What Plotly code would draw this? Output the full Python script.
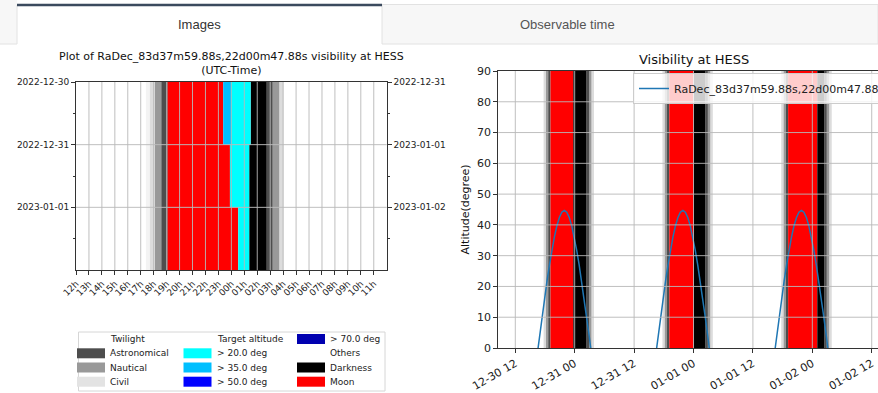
import plotly.graph_objects as go
import pandas as pd

W, H = 878, 393


def fx(x):
    return x / W


def fy(y):
    return 1 - y / H


# ---------------- Left chart data (hours; 12 = noon of row date, 36 = next noon)
row_labels_left = ["2022-12-30", "2022-12-31", "2023-01-01"]
row_labels_right = ["2022-12-31", "2023-01-01", "2023-01-02"]
hour_ticks = list(range(12, 36))
hour_labels = ["12h", "13h", "14h", "15h", "16h", "17h", "18h", "19h", "20h", "21h", "22h", "23h",
               "00h", "01h", "02h", "03h", "04h", "05h", "06h", "07h", "08h", "09h", "10h", "11h"]

seg_row = [0] * 11 + [1] * 10 + [2] * 10
seg_start = [17.71, 18.10, 18.59, 19.08, 23.37, 23.97, 25.49, 26.73, 27.19, 27.70, 17.40,
             17.71, 18.10, 18.59, 19.08, 23.89, 25.38, 26.73, 27.19, 27.70, 17.40,
             17.71, 18.10, 18.59, 19.08, 24.53, 25.38, 26.73, 27.19, 27.70, 17.40]
seg_end = [18.10, 18.59, 19.08, 23.37, 23.97, 25.49, 26.73, 27.19, 27.70, 28.01, 17.71,
           18.10, 18.59, 19.08, 23.89, 25.38, 26.73, 27.19, 27.70, 28.01, 17.71,
           18.10, 18.59, 19.08, 24.53, 25.38, 26.73, 27.19, 27.70, 28.01, 17.71]
seg_kind = ["civil", "nautical", "astro", "moon", "alt35", "alt20", "dark", "astro", "nautical", "civil", "pale",
            "civil", "nautical", "astro", "moon", "alt20", "dark", "astro", "nautical", "civil", "pale",
            "civil", "nautical", "astro", "moon", "alt20", "dark", "astro", "nautical", "civil", "pale"]

kind_colors = {
    "pale": "#f3f3f3",
    "civil": "#dcdcdc",
    "nautical": "#999999",
    "astro": "#4d4d4d",
    "dark": "#000000",
    "moon": "#ff0000",
    "alt20": "#00ffff",
    "alt35": "#00bfff",
    "alt50": "#0000ff",
    "alt70": "#0000b0",
}

# ---------------- Right chart data (hours since 2022-12-30 00:00)
r_start = [17.72, 18.20, 18.65, 19.11, 23.72, 26.38, 26.90, 27.39,
           41.72, 42.20, 42.65, 43.11, 48.10, 50.38, 50.90, 51.39,
           65.72, 66.20, 66.65, 67.11, 73.00, 74.40, 74.92, 75.41]
r_end = [18.20, 18.65, 19.11, 23.72, 26.38, 26.90, 27.39, 27.90,
         42.20, 42.65, 43.11, 48.10, 50.38, 50.90, 51.39, 51.90,
         66.20, 66.65, 67.11, 73.00, 74.40, 74.92, 75.41, 75.92]
r_kind = ["civil", "nautical", "astro", "moon", "dark", "astro", "nautical", "civil"] * 3

alt_offsets = [-6, -5.5, -5, -4.5, -4, -3.5, -3, -2.5, -2, -1.5, -1, -0.5, 0,
               0.5, 1, 1.5, 2, 2.5, 3, 3.5, 4, 4.5, 5, 5.5, 6]
alt_profile = [-8.5, -2.1, 4.2, 10.3, 16.1, 21.7, 27.0, 31.8, 36.1, 39.7, 42.4, 44.1, 44.7,
               44.1, 42.4, 39.7, 36.1, 31.8, 27.0, 21.7, 16.1, 10.3, 4.2, -2.1, -8.5]
transit_hours = [21.9, 45.85, 69.8]

date_tick_vals = ["2022-12-30 12:00", "2022-12-31 00:00", "2022-12-31 12:00", "2023-01-01 00:00",
                  "2023-01-01 12:00", "2023-01-02 00:00", "2023-01-02 12:00"]
date_tick_text = ["12-30 12", "12-31 00", "12-31 12", "01-01 00", "01-01 12", "01-02 00", "01-02 12"]
alt_ticks = [0, 10, 20, 30, 40, 50, 60, 70, 80, 90]

target_name = "RaDec_83d37m59.88s,22d00m47.88s"

T0 = pd.Timestamp("2022-12-30 00:00")


def to_dt(h):
    return T0 + pd.to_timedelta(h, unit="h")


FONT = "DejaVu Sans"
fig = go.Figure()

# ---- left chart bars
for kind, col in kind_colors.items():
    idx = [i for i, k in enumerate(seg_kind) if k == kind]
    if not idx:
        continue
    fig.add_trace(go.Bar(
        orientation="h",
        y=[seg_row[i] + 0.5 for i in idx],
        base=[seg_start[i] for i in idx],
        x=[seg_end[i] - seg_start[i] for i in idx],
        width=[1.0] * len(idx),
        marker=dict(color=col, line=dict(width=0)),
        xaxis="x", yaxis="y", showlegend=False, hoverinfo="skip",
    ))
# anchor trace for the right-side date labels of left chart
fig.add_trace(go.Scatter(x=[None], y=[None], xaxis="x", yaxis="y3", showlegend=False, hoverinfo="skip"))

# ---- right chart bands
for kind in ["civil", "nautical", "astro", "moon", "dark"]:
    idx = [i for i, k in enumerate(r_kind) if k == kind]
    fig.add_trace(go.Bar(
        orientation="h",
        y=[45] * len(idx),
        width=[90] * len(idx),
        base=[to_dt(r_start[i]) for i in idx],
        x=[(r_end[i] - r_start[i]) * 3600 * 1000 for i in idx],
        marker=dict(color=kind_colors[kind], line=dict(width=0)),
        xaxis="x2", yaxis="y2", showlegend=False, hoverinfo="skip",
    ))

# ---- altitude curve
curve_t, curve_a = [], []
for tr in transit_hours:
    for o, a in zip(alt_offsets, alt_profile):
        curve_t.append(to_dt(tr + o))
        curve_a.append(a)
fig.add_trace(go.Scatter(
    x=curve_t, y=curve_a, mode="lines", name=target_name,
    line=dict(color="#1f77b4", width=1.5),
    xaxis="x2", yaxis="y2", showlegend=True, legend="legend",
))

fig.update_layout(barmode="overlay")

shapes = []
annotations = []

# ---- tab bar
shapes += [
    dict(type="rect", xref="paper", yref="paper", x0=fx(0), x1=fx(17), y0=fy(44), y1=fy(0),
         fillcolor="#f7f7f7", line=dict(width=0), layer="above"),
    dict(type="line", xref="paper", yref="paper", x0=fx(0), x1=fx(17), y0=fy(44), y1=fy(44),
         line=dict(color="#e2e2e2", width=1), layer="above"),
    dict(type="line", xref="paper", yref="paper", x0=fx(17), x1=fx(17), y0=fy(44), y1=fy(5),
         line=dict(color="#e2e2e2", width=1), layer="above"),
    dict(type="rect", xref="paper", yref="paper", x0=fx(382), x1=fx(878), y0=fy(44), y1=fy(4.5),
         fillcolor="#f7f7f7", line=dict(color="#e2e2e2", width=1), layer="above"),
    dict(type="line", xref="paper", yref="paper", x0=fx(17), x1=fx(382), y0=fy(5), y1=fy(5),
         line=dict(color="#3b4a5e", width=2.5), layer="above"),
]
annotations += [
    dict(text="Images", x=fx(199.5), y=fy(24.5), xref="paper", yref="paper", showarrow=False,
         font=dict(family="Liberation Sans", size=13, color="#333333"), xanchor="center", yanchor="middle"),
    dict(text="Observable time", x=fx(567), y=fy(24.5), xref="paper", yref="paper", showarrow=False,
         font=dict(family="Liberation Sans", size=13, color="#555555"), xanchor="center", yanchor="middle"),
]

# ---- gridlines drawn above the colour bands (as in the original)
GRID = dict(color="#b8b8b8", width=0.9)
for h in hour_ticks[1:]:
    shapes.append(dict(type="line", xref="x", yref="y domain", x0=h, x1=h, y0=0, y1=1, line=GRID, layer="above"))
for r in [1, 2]:
    shapes.append(dict(type="line", xref="x domain", yref="y", x0=0, x1=1, y0=r, y1=r, line=GRID, layer="above"))
for d in date_tick_vals:
    shapes.append(dict(type="line", xref="x2", yref="y2 domain", x0=d, x1=d, y0=0, y1=1, line=GRID, layer="above"))
for a in alt_ticks[1:-1]:
    shapes.append(dict(type="line", xref="x2 domain", yref="y2", x0=0, x1=1, y0=a, y1=a, line=GRID, layer="above"))

# ---- titles
annotations += [
    dict(text="Plot of " + target_name + " visibility at HESS<br>(UTC-Time)", x=fx(231.5), y=fy(63.5),
         xref="paper", yref="paper", showarrow=False, align="center",
         font=dict(family=FONT, size=11, color="#111111"), xanchor="center", yanchor="middle"),
    dict(text="Visibility at HESS", x=fx(694), y=fy(59), xref="paper", yref="paper", showarrow=False,
         font=dict(family=FONT, size=13, color="#111111"), xanchor="center", yanchor="middle"),
    dict(text="Altitude(degree)", x=fx(465), y=fy(209.5), xref="paper", yref="paper", showarrow=False,
         textangle=-90, font=dict(family=FONT, size=11, color="#111111"), xanchor="center", yanchor="middle"),
]

# ---- left legend (matplotlib style, 3 columns)
legend_cols = [
    [("Twilight", None), ("Astronomical", "#4d4d4d"), ("Nautical", "#999999"), ("Civil", "#e3e3e3")],
    [("Target altitude", None), ("> 20.0 deg", "#00ffff"), ("> 35.0 deg", "#00bfff"), ("> 50.0 deg", "#0000ff")],
    [("> 70.0 deg", "#0000b0"), ("Others", None), ("Darkness", "#000000"), ("Moon", "#ff0000")],
]
col_sw_x = [77, 183.5, 297]
col_tx_x = [108, 214.5, 328]
row_y = [339, 353.3, 367.5, 381.7]
shapes.append(dict(type="rect", xref="paper", yref="paper", x0=fx(78.5), x1=fx(385), y0=fy(391), y1=fy(332),
                   line=dict(color="#d6d6d6", width=1), fillcolor="white", layer="above"))
for c, entries in enumerate(legend_cols):
    for r, (lab, colr) in enumerate(entries):
        if colr is not None:
            shapes.append(dict(type="rect", xref="paper", yref="paper",
                               x0=fx(col_sw_x[c]), x1=fx(col_sw_x[c] + 28),
                               y0=fy(row_y[r] + 5), y1=fy(row_y[r] - 5),
                               fillcolor=colr, line=dict(width=0), layer="above"))
        annotations.append(dict(text=lab, x=fx(col_tx_x[c]), y=fy(row_y[r]), xref="paper", yref="paper",
                                showarrow=False, xanchor="left", yanchor="middle",
                                font=dict(family=FONT, size=9, color="#222222")))

AX = dict(showline=True, linecolor="#333333", linewidth=1, ticks="outside", ticklen=4,
          tickcolor="#333333", showgrid=False, zeroline=False)

fig.update_layout(
    width=W, height=H,
    margin=dict(l=0, r=0, t=0, b=0, autoexpand=False),
    paper_bgcolor="white", plot_bgcolor="white",
    shapes=shapes, annotations=annotations,
    xaxis=dict(domain=[fx(76), fx(386.7)], range=[12, 36], anchor="y", tickmode="array",
               tickvals=hour_ticks, ticktext=hour_labels, tickangle=-45, mirror=True,
               tickfont=dict(family=FONT, size=9, color="#222222"), **AX),
    yaxis=dict(domain=[fy(270), fy(82)], range=[3, 0], anchor="x", tickmode="array",
               tickvals=[0, 1, 2], ticktext=row_labels_left, mirror=True,
               minor=dict(tickvals=[0.5, 1.5, 2.5], ticks="outside", ticklen=2, tickcolor="#333333"),
               tickfont=dict(family=FONT, size=9, color="#222222"), **AX),
    yaxis3=dict(overlaying="y", side="right", anchor="x", range=[3, 0], tickmode="array",
                tickvals=[0, 1, 2], ticktext=row_labels_right,
                minor=dict(tickvals=[0.5, 1.5, 2.5], ticks="outside", ticklen=2, tickcolor="#333333"),
                tickfont=dict(family=FONT, size=9, color="#222222"),
                showline=False, ticks="outside", ticklen=4, tickcolor="#333333", showgrid=False, zeroline=False),
    xaxis2=dict(domain=[fx(498.3), 1.0], type="date", anchor="y2",
                range=["2022-12-30 08:34", "2023-01-02 13:16"], tickmode="array",
                tickvals=date_tick_vals, ticktext=date_tick_text, tickangle=-30, mirror=True,
                tickfont=dict(family=FONT, size=11, color="#222222"), **AX),
    yaxis2=dict(domain=[fy(348), fy(71)], range=[0, 90], anchor="x2", tickmode="array",
                tickvals=alt_ticks, tickfont=dict(family=FONT, size=11, color="#222222"), **AX),
    legend=dict(x=fx(633), y=fy(73), xref="paper", yref="paper", xanchor="left", yanchor="top",
                bgcolor="rgba(255,255,255,0.8)", bordercolor="#cccccc", borderwidth=1,
                font=dict(family=FONT, size=11, color="#222222")),
    showlegend=True,
)

fig.write_html("out.html", config={"displayModeBar": False},
               post_script="document.body.style.margin='0';document.body.style.overflow='hidden';")
